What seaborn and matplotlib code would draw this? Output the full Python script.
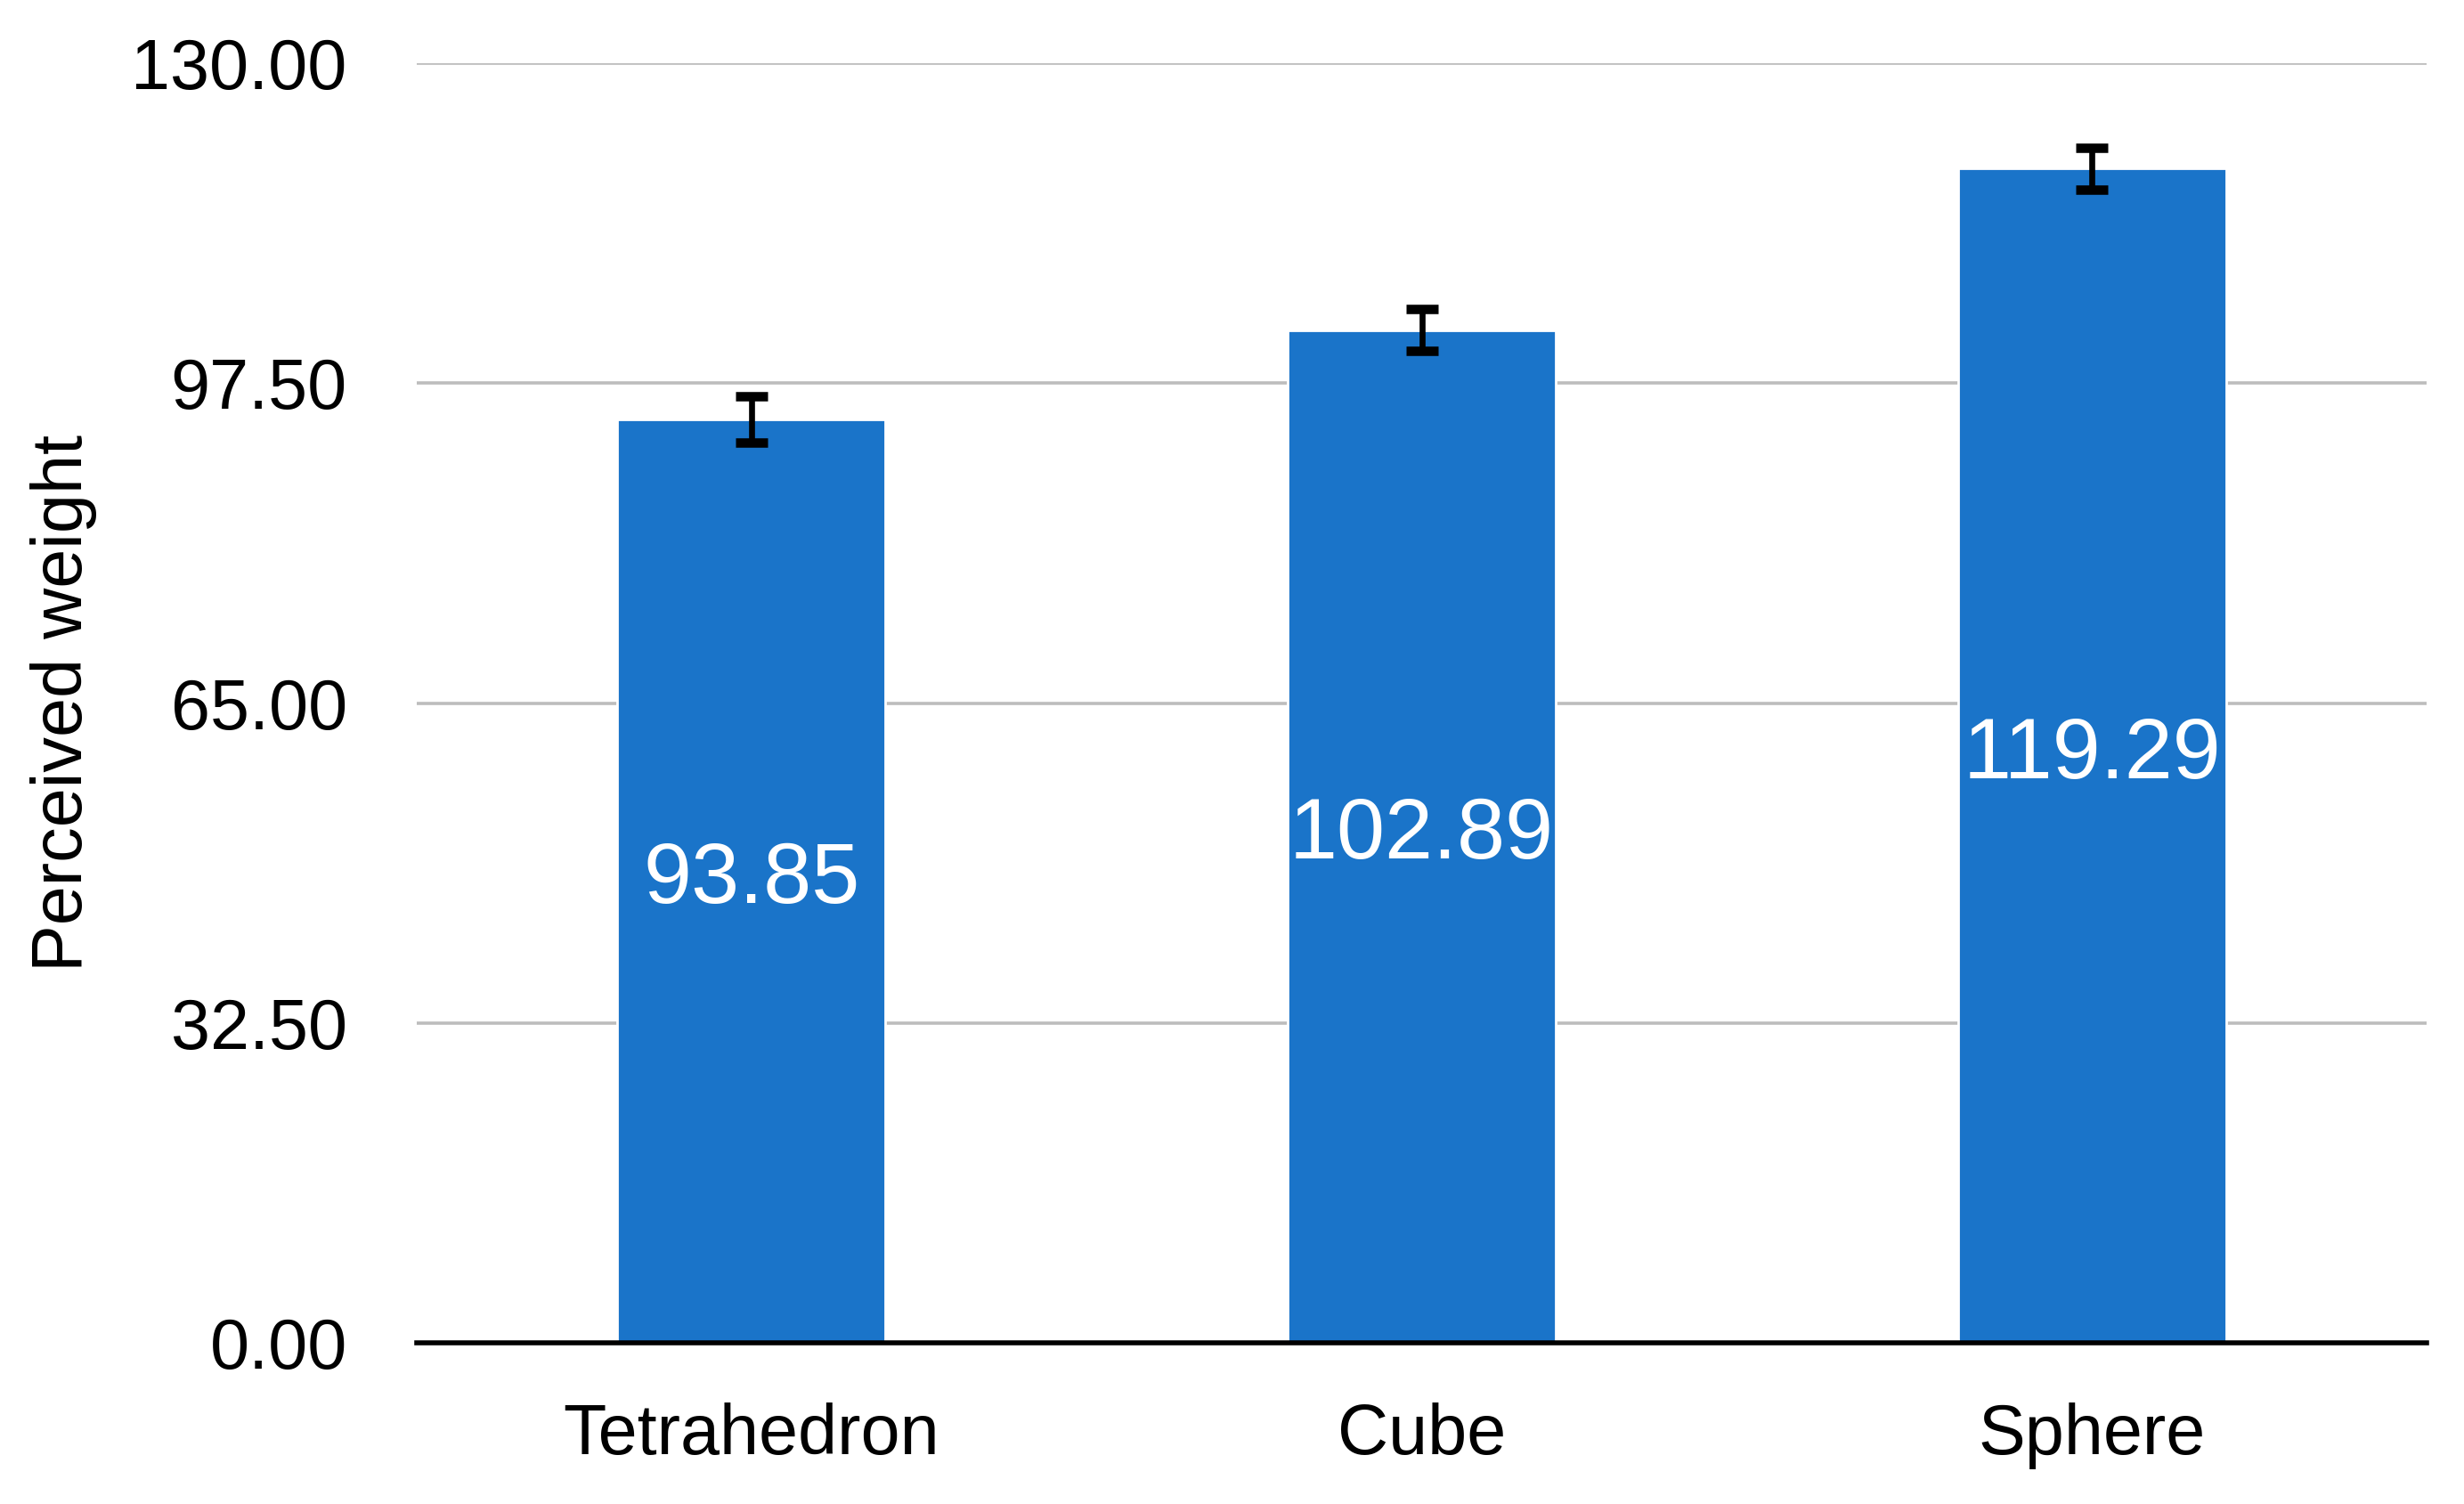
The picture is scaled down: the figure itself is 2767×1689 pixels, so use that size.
import matplotlib
matplotlib.use("Agg")
import matplotlib.pyplot as plt
import seaborn as sns
import pandas as pd

# data
shapes = ["Tetrahedron", "Cube", "Sphere"]
weights = [93.85, 102.89, 119.29]
errors = [2.35, 2.1, 2.15]
yticks = [0, 32.5, 65, 97.5, 130]

df = pd.DataFrame({"Shape": shapes, "Weight": weights})

sns.set_style("white")
plt.rcParams["font.family"] = ["Liberation Sans", "DejaVu Sans"]
plt.rcParams["text.color"] = "black"
plt.rcParams["xtick.color"] = "black"
plt.rcParams["ytick.color"] = "black"
plt.rcParams["axes.labelcolor"] = "black"

fig, ax = plt.subplots(figsize=(13.835, 8.445), dpi=200)
fig.subplots_adjust(left=0.169, right=0.985, top=0.958, bottom=0.107)

sns.barplot(data=df, x="Shape", y="Weight", color="#1a74c9", saturation=1,
            width=0.40, errorbar=None, ax=ax, zorder=3)
ax.errorbar(x=range(len(shapes)), y=weights, yerr=errors, fmt="none",
            ecolor="black", elinewidth=2.4, capsize=6.5, capthick=3.8, zorder=4)

ax.bar_label(ax.containers[0], labels=[f"{w:.2f}" for w in weights],
             label_type="center", color="white", fontsize=35)

ax.set_ylim(0, 130)
ax.set_yticks(yticks)
ax.set_yticklabels([f"{t:.2f}" for t in yticks])
ax.set_xlim(-0.5, 2.5)
ax.yaxis.grid(True, color="#bdbdbd", linewidth=1.3, zorder=0)
ax.set_axisbelow(True)
for s in ["top", "right", "left"]:
    ax.spines[s].set_visible(False)
ax.spines["bottom"].set_color("black")
ax.spines["bottom"].set_linewidth(2)
ax.spines["bottom"].set_zorder(5)

ax.tick_params(axis="y", length=0, pad=28, labelsize=28.5)
ax.tick_params(axis="x", length=0, pad=24, labelsize=28.5)
ax.set_xlabel("")
ax.set_ylabel("Perceived weight", fontsize=28.5, labelpad=14)

plt.savefig("out.png", dpi=200)
